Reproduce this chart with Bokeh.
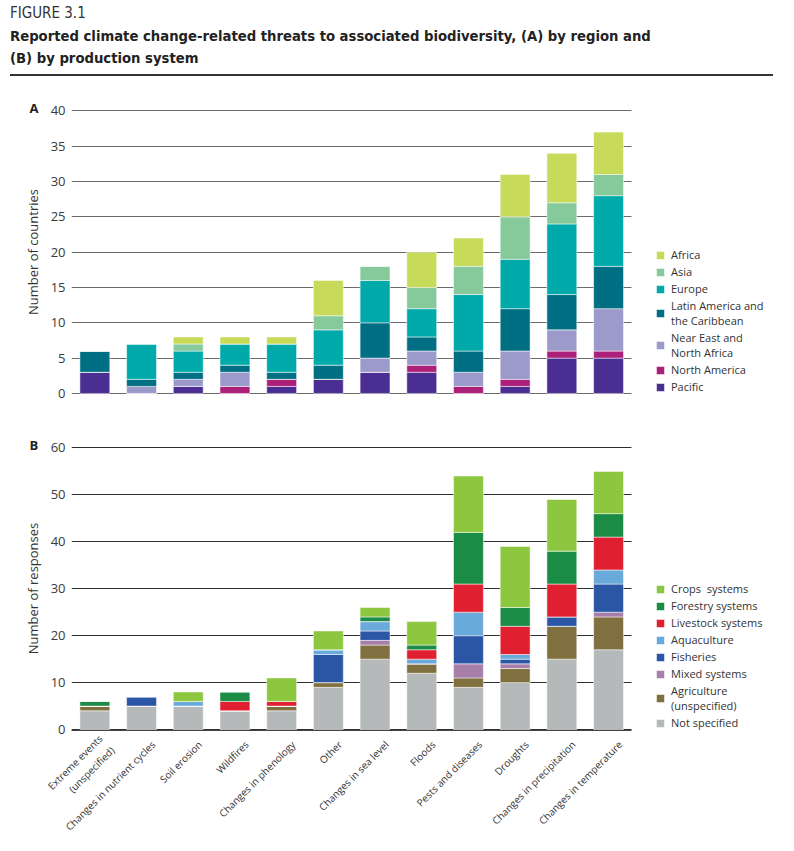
import math
from bokeh.plotting import figure
from bokeh.models import (ColumnDataSource, Range1d, Legend, LegendItem, Div,
                          FixedTicker)
from bokeh.layouts import column
from bokeh.embed import file_html
from bokeh.resources import INLINE

# ---------------- data ----------------
categories = [
    "Extreme events\n(unspecified)", "Changes in nutrient cycles", "Soil erosion",
    "Wildfires", "Changes in phenology", "Other", "Changes in sea level",
    "Floods", "Pests and diseases", "Droughts", "Changes in precipitation",
    "Changes in temperature",
]

# Panel A: number of countries by region (stack order bottom -> top)
region_names = ["Pacific", "North America", "Near East and\nNorth Africa",
                "Latin America and\nthe Caribbean", "Europe", "Asia", "Africa"]
pacific       = [3, 0, 1, 0, 1, 2, 3, 3, 0, 1, 5, 5]
north_america = [0, 0, 0, 1, 1, 0, 0, 1, 1, 1, 1, 1]
near_east     = [0, 1, 1, 2, 0, 0, 2, 2, 2, 4, 3, 6]
latin_america = [3, 1, 1, 1, 1, 2, 5, 2, 3, 6, 5, 6]
europe        = [0, 5, 3, 3, 4, 5, 6, 4, 8, 7, 10, 10]
asia          = [0, 0, 1, 0, 0, 2, 2, 3, 4, 6, 3, 3]
africa        = [0, 0, 1, 1, 1, 5, 0, 5, 4, 6, 7, 6]
ticks_a = [0, 5, 10, 15, 20, 25, 30, 35, 40]

# Panel B: number of responses by production system (stack order bottom -> top)
system_names = ["Not specified", "Agriculture\n(unspecified)", "Mixed systems",
                "Fisheries", "Aquaculture", "Livestock systems",
                "Forestry systems", "Crops  systems"]
not_specified = [4, 5, 5, 4, 4, 9, 15, 12, 9, 10, 15, 17]
agriculture   = [1, 0, 0, 0, 1, 1, 3, 2, 2, 3, 7, 7]
mixed         = [0, 0, 0, 0, 0, 0, 1, 0, 3, 1, 0, 1]
fisheries     = [0, 2, 0, 0, 0, 6, 2, 0, 6, 1, 2, 6]
aquaculture   = [0, 0, 1, 0, 0, 1, 2, 1, 5, 1, 0, 3]
livestock     = [0, 0, 0, 2, 1, 0, 0, 2, 6, 6, 7, 7]
forestry      = [1, 0, 0, 2, 0, 0, 1, 1, 11, 4, 7, 5]
crops         = [0, 0, 2, 0, 5, 4, 2, 5, 12, 13, 11, 9]
ticks_b = [0, 10, 20, 30, 40, 50, 60]

colors_a = ["#4B2E92", "#AD207A", "#9C9ACB", "#006F83", "#00AAAA", "#86C99B", "#C8DA59"]
colors_b = ["#B5B9BA", "#80703F", "#A77FAA", "#2B56A6", "#6AAADB", "#E01F30", "#1A8C46", "#8DC63F"]

FONT = "Open Sans"
TXT = "#333333"
N = len(categories)
x_pos = [i + 0.5 for i in range(N)]          # category slots on the x scale
label_pos = [x + 0.25 for x in x_pos]        # anchor of the slanted category labels

keys_a = ["pacific", "north_america", "near_east", "latin_america", "europe", "asia", "africa"]
src_a = ColumnDataSource(dict(x=x_pos, pacific=pacific, north_america=north_america,
                              near_east=near_east, latin_america=latin_america,
                              europe=europe, asia=asia, africa=africa))
keys_b = ["not_specified", "agriculture", "mixed", "fisheries", "aquaculture",
          "livestock", "forestry", "crops"]
src_b = ColumnDataSource(dict(x=x_pos, not_specified=not_specified,
                              agriculture=agriculture, mixed=mixed, fisheries=fisheries,
                              aquaculture=aquaculture, livestock=livestock,
                              forestry=forestry, crops=crops))

W = 790
LEFT = 71
X_END = (W - LEFT) / 46.7


def style_common(p, ticks, grid_color, letter):
    p.outline_line_color = None
    p.xgrid.visible = False
    yg = p.ygrid[0]
    yg.ticker = FixedTicker(ticks=ticks)
    yg.grid_line_color = grid_color
    yg.grid_line_width = 1
    if "cross_bounds" in yg.properties():
        yg.cross_bounds = (0, N)
    ya = p.yaxis[0]
    ya.ticker = FixedTicker(ticks=ticks)
    ya.axis_line_color = None
    ya.major_tick_line_color = None
    ya.minor_tick_line_color = None
    ya.major_tick_out = 0
    ya.major_tick_in = 0
    ya.minor_tick_out = 0
    ya.major_label_standoff = 6
    ya.major_label_text_font = FONT
    ya.major_label_text_font_size = "13px"
    ya.major_label_text_color = "#3a3a3a"
    ya.axis_label_text_font = FONT
    ya.axis_label_text_font_size = "13px"
    ya.axis_label_text_font_style = "normal"
    ya.axis_label_text_color = TXT
    ya.axis_label_standoff = 6
    # panel letter
    p.title.text = letter
    p.title.align = "left"
    p.title.offset = -42
    p.title.standoff = -14
    p.title.text_font = FONT
    p.title.text_font_size = "13px"
    p.title.text_font_style = "bold"
    p.title.text_color = "#222222"


def make_legend(items):
    return Legend(items=items, location=(584, 0), margin=0, padding=0, spacing=2,
                  glyph_width=10, glyph_height=10, label_height=12, label_standoff=6,
                  label_text_font=FONT, label_text_font_size="11px",
                  label_text_line_height=1.0,
                  label_text_color=TXT, border_line_color=None,
                  background_fill_alpha=0)


# ---------------- panel A ----------------
pa = figure(x_range=Range1d(0, X_END), y_range=Range1d(-0.15, 40.2),
            width=W, height=335, output_backend="svg", toolbar_location=None,
            min_border_left=LEFT, min_border_right=0, min_border_top=29,
            min_border_bottom=21, y_axis_label="Number of countries")
rs_a = pa.vbar_stack(keys_a, x="x", width=0.64, source=src_a,
                     fill_color=colors_a, line_color="white", line_width=0.5)
style_common(pa, ticks_a, "#6b6b6b", "A")
pa.xaxis.visible = False
items_a = [LegendItem(label=n, renderers=[r]) for n, r in zip(region_names, rs_a)][::-1]
pa.add_layout(make_legend(items_a))

# ---------------- panel B ----------------
pb = figure(x_range=Range1d(0, X_END), y_range=Range1d(-0.2, 60.3),
            width=W, height=426, output_backend="svg", toolbar_location=None,
            min_border_left=LEFT, min_border_right=0, min_border_top=31,
            min_border_bottom=110, y_axis_label="Number of responses")
rs_b = pb.vbar_stack(keys_b, x="x", width=0.64, source=src_b,
                     fill_color=colors_b, line_color="white", line_width=0.5)
style_common(pb, ticks_b, "#2f2f2f", "B")
xa = pb.xaxis[0]
xa.ticker = FixedTicker(ticks=label_pos)
xa.major_label_overrides = {x: c for x, c in zip(label_pos, categories)}
xa.bounds = (0, N)
xa.axis_line_color = "#444444"
xa.axis_line_width = 1.2
xa.major_tick_line_color = None
xa.minor_tick_line_color = None
xa.major_tick_out = 0
xa.major_tick_in = 0
xa.major_label_orientation = math.pi / 4
xa.major_label_standoff = 12
xa.major_label_text_font = FONT
xa.major_label_text_font_size = "10px"
xa.major_label_text_color = TXT
items_b = [LegendItem(label=n, renderers=[r]) for n, r in zip(system_names, rs_b)][::-1]
pb.add_layout(make_legend(items_b))

# ---------------- heading ----------------
head = Div(text=(
    '<div style="font-family:\'Liberation Sans Narrow\',\'DejaVu Sans Condensed\',sans-serif;'
    'color:#222;width:763px;margin-left:10px;padding-top:5px">'
    '<div style="font-size:15px;line-height:16px;color:#333">FIGURE 3.1</div>'
    '<div style="font-size:14.7px;font-weight:bold;line-height:22px;margin-top:4px">'
    'Reported climate change-related threats to associated biodiversity, (A) by region and<br>'
    '(B) by production system</div>'
    '<div style="border-top:2.5px solid #333;margin-top:5px"></div></div>'),
    width=W, height=80, margin=(0, 0, 0, 0))

layout = column(head, pa, pb, spacing=0)
open("out.html", "w").write(file_html(layout, INLINE))
